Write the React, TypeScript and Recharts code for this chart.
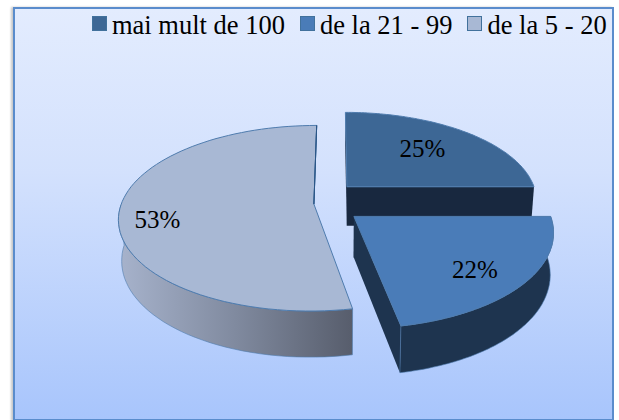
import { PieChart, Pie, Legend } from "recharts";

const categories = ["mai mult de 100", "de la 21 - 99", "de la 5 - 20"];
const shares = [25, 22, 53];
const topColors = ["#3d6795", "#4a7cb8", "#a8b8d4"];
const wallColors = ["#18283f", "#1e344f", "url(#wallShade)"];
const explodeX = [0.09, 0.125, 0.11];
// how far out each percent sits, and a small nudge, since office placed them by "best fit"
const labelRadius = [0.63, 0.77, 0.8];
const labelNudge = [
  [-2, -3],
  [-7, 3],
  [-1, 9],
];

const data = categories.map((name, i) => ({ name, value: shares[i], fill: topColors[i] }));

const WIDTH = 619;
const HEIGHT = 420;
const RY = 90; // squashed radius of the tilted pie
const PERSPECTIVE = 0.152;
const EXPLODE_Y = 0.245;
const RAD = Math.PI / 180;
const SERIF = '"Liberation Serif", "Times New Roman", Times, serif';

// circle coordinates (radius 1, y towards the viewer) to the screen, tilted pie
function project(cx: number, cy: number, r: number, wx: number, wy: number) {
  const d = 1 - PERSPECTIVE * wy;
  return { x: cx + (r * wx) / d, y: cy + (RY * wy) / d };
}

function lowered(cx: number, p: { x: number; y: number }, wy: number) {
  return { x: cx + (p.x - cx) * 0.985, y: p.y + 40 + 6 * wy };
}

function Slice3D(props: any) {
  const { cx, cy, outerRadius, startAngle, endAngle, midAngle, name } = props;
  const i = categories.indexOf(name);
  const ox = explodeX[i] * Math.cos(midAngle * RAD);
  const oy = -EXPLODE_Y * Math.sin(midAngle * RAD);

  const apexW = { wx: ox, wy: oy };
  const arcW: { wx: number; wy: number }[] = [];
  const frontW: { wx: number; wy: number }[] = [];
  const steps = 80;
  for (let s = 0; s <= steps; s++) {
    const a = (startAngle + ((endAngle - startAngle) * s) / steps) * RAD;
    const pt = { wx: ox + Math.cos(a), wy: oy - Math.sin(a) };
    arcW.push(pt);
    if (Math.sin(a) <= 0) frontW.push(pt); // only the near half of the rim shows a wall
  }

  const top = (w: { wx: number; wy: number }) => project(cx, cy, outerRadius, w.wx, w.wy);
  const low = (w: { wx: number; wy: number }) => lowered(cx, top(w), w.wy);
  const toPath = (pts: { x: number; y: number }[]) =>
    "M" + pts.map((p) => `${p.x.toFixed(1)},${p.y.toFixed(1)}`).join("L") + "Z";

  const first = arcW[0];
  const last = arcW[arcW.length - 1];
  const wallFill = wallColors[i];
  const edge = "#4f7cae";

  return (
    <g>
      <defs>
        <linearGradient id="wallShade" x1="0" y1="0" x2="1" y2="0">
          <stop offset="0%" stopColor="#a7b3cc" />
          <stop offset="50%" stopColor="#808a9f" />
          <stop offset="100%" stopColor="#575d6c" />
        </linearGradient>
      </defs>
      {i !== 2 && <path d={toPath([top(apexW), top(first), low(first), low(apexW)])} fill={wallFill} />}
      {i !== 2 && <path d={toPath([top(apexW), top(last), low(last), low(apexW)])} fill={wallFill} />}
      {frontW.length > 1 && (
        <path
          d={toPath([...frontW.map(top), ...frontW.slice().reverse().map(low)])}
          fill={wallFill}
          stroke={edge}
          strokeWidth={0.6}
        />
      )}
      <path d={toPath([top(apexW), ...arcW.map(top)])} fill={topColors[i]} stroke={edge} strokeWidth={1} />
      {i === 2 && <path d={toPath([top(apexW), top(last)])} fill="none" stroke="#2a5687" strokeWidth={1} />}
    </g>
  );
}

function percentLabel(props: any) {
  const { cx, cy, outerRadius, midAngle, index, value } = props;
  const r = labelRadius[index];
  const ox = (explodeX[index] + r) * Math.cos(midAngle * RAD);
  const oy = -(EXPLODE_Y + r) * Math.sin(midAngle * RAD);
  const p = project(cx, cy, outerRadius, ox, oy);
  return (
    <text
      x={p.x + labelNudge[index][0]}
      y={p.y + labelNudge[index][1]}
      textAnchor="middle"
      dominantBaseline="central"
      fontFamily={SERIF}
      fontSize={25}
      fill="#000"
    >
      {value}%
    </text>
  );
}

function LegendRow() {
  return (
    <div style={{ display: "flex", alignItems: "center", fontFamily: SERIF, fontSize: 26.5, color: "#000", whiteSpace: "nowrap" }}>
      {categories.map((name, i) => (
        <span key={name} style={{ display: "flex", alignItems: "center", marginLeft: i ? 15 : 0 }}>
          <span
            style={{
              width: 13,
              height: 13,
              marginRight: 5,
              marginTop: -5,
              background: topColors[i],
              border: "1px solid #41719c",
              display: "inline-block",
            }}
          />
          {name}
        </span>
      ))}
    </div>
  );
}

export default function App() {
  return (
    <div style={{ position: "absolute", left: 0, top: 0, width: WIDTH, height: HEIGHT, background: "#fff" }}>
      <div
        style={{
          position: "absolute",
          left: 13,
          top: 7,
          width: 597,
          height: 410,
          border: "2px solid #5a8ccc",
          boxShadow: "-2px 0 2px #c8c8c8",
          background: "linear-gradient(180deg, #e3ecfe 0%, #d3e1fd 40%, #a8c5fc 100%)",
        }}
      />
      <div style={{ position: "absolute", left: 0, top: 0 }}>
        <PieChart width={WIDTH} height={HEIGHT} margin={{ top: 0, right: 0, bottom: 0, left: 0 }}>
          <Legend
            verticalAlign="middle"
            align="center"
            content={LegendRow}
            wrapperStyle={{ top: 10, left: 92, right: "auto", bottom: "auto", width: "auto" }}
          />
          <Pie
            data={data}
            dataKey="value"
            nameKey="name"
            cx={335}
            cy={202}
            outerRadius={192}
            startAngle={90}
            endAngle={-270}
            stroke="none"
            shape={Slice3D}
            label={percentLabel}
            labelLine={false}
            isAnimationActive={false}
          />
        </PieChart>
      </div>
    </div>
  );
}
